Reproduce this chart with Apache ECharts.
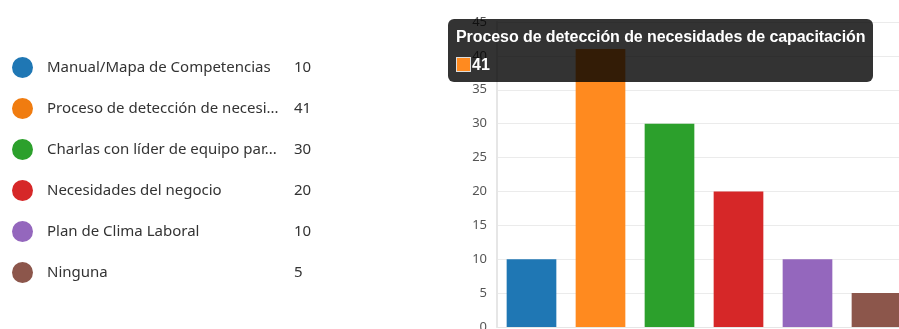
<!DOCTYPE html>
<html>
<head>
<meta charset="utf-8">
<script src="https://cdn.jsdelivr.net/npm/echarts@6/dist/echarts.min.js"></script>
<style>
html,body{margin:0;padding:0;background:#fff;}
#c{width:899px;height:329px;}
</style>
</head>
<body>
<div id="c"></div>
<script>
const categories = [
  "Manual/Mapa de Competencias",
  "Proceso de detección de necesidades de capacitación",
  "Charlas con líder de equipo para identificar necesidades",
  "Necesidades del negocio",
  "Plan de Clima Laboral",
  "Ninguna"
];
const values = [10, 41, 30, 20, 10, 5];
const colors = ["#1f77b4", "#ff8a1f", "#2ca02c", "#d62728", "#9467bd", "#8c564b"];
const legendColors = ["#1f77b4", "#f07c10", "#2ca02c", "#d62728", "#9467bd", "#8c564b"];
const yTicks = { min: 0, max: 45, interval: 5 };

const chart = echarts.init(document.getElementById('c'), null, { renderer: 'canvas' });
const legendFont = '15px "Noto Sans"';

const series = categories.map((name, i) => ({
  name: name,
  type: 'bar',
  stack: 'all',
  barWidth: '72%',
  itemStyle: { color: colors[i] },
  emphasis: { disabled: true },
  data: categories.map((c, j) => (j === i ? values[i] : '-'))
}));

chart.setOption({
  animation: false,
  grid: { left: 497, top: 22, right: -12, bottom: 2, containLabel: false, outerBoundsMode: 'none' },
  legend: {
    orient: 'vertical',
    left: 12,
    top: 57,
    padding: 0,
    itemWidth: 21,
    itemHeight: 21,
    itemGap: 20,
    icon: 'circle',
    selectedMode: false,
    data: categories.map((name, i) => ({ name: name, itemStyle: { color: legendColors[i] } })),
    formatter: function (name) {
      const i = categories.indexOf(name);
      const t = echarts.format.truncateText(name, 240, legendFont, '...');
      return '{n|' + t + '}{v|' + values[i] + '}';
    },
    textStyle: {
      color: '#333',
      fontFamily: 'Noto Sans',
      fontSize: 15,
      rich: {
        n: { width: 247, padding: [0, 0, 0, 9], fontFamily: 'Noto Sans', fontSize: 15, color: '#333' },
        v: { fontFamily: 'Noto Sans', fontSize: 15, color: '#333' }
      }
    }
  },
  tooltip: {
    trigger: 'item',
    alwaysShowContent: true,
    transitionDuration: 0,
    position: [448, 19],
    backgroundColor: 'rgba(0,0,0,0.8)',
    borderWidth: 0,
    padding: [8, 8, 7, 8],
    extraCssText: 'border-radius:6px;box-shadow:none;',
    formatter: function (p) {
      return '<div style="font:bold 16px \'Liberation Sans\',Arial,sans-serif;color:#fff;line-height:20px;letter-spacing:-0.08px;">' +
        p.seriesName + '</div>' +
        '<div style="font:bold 16px \'Liberation Sans\',Arial,sans-serif;color:#fff;line-height:20px;margin-top:8px;">' +
        '<span style="display:inline-block;width:13px;height:13px;background:' + p.color +
        ';border:1px solid #ddd;vertical-align:-2px;margin-right:1px;"></span>' + p.value + '</div>';
    }
  },
  xAxis: {
    type: 'category',
    data: categories,
    axisLabel: { show: false },
    axisTick: { show: false },
    axisLine: { lineStyle: { color: '#e6e6e6' } },
    splitLine: { show: false }
  },
  yAxis: {
    type: 'value',
    min: yTicks.min,
    max: yTicks.max,
    interval: yTicks.interval,
    axisLine: { show: true, lineStyle: { color: '#e6e6e6', width: 2 } },
    axisTick: { show: false },
    axisLabel: { color: '#555', fontFamily: 'Noto Sans', fontSize: 13, margin: 10 },
    splitLine: { lineStyle: { color: '#ebebeb' } }
  },
  series: series
});

chart.dispatchAction({ type: 'showTip', seriesIndex: 1, dataIndex: 1 });
</script>
</body>
</html>
